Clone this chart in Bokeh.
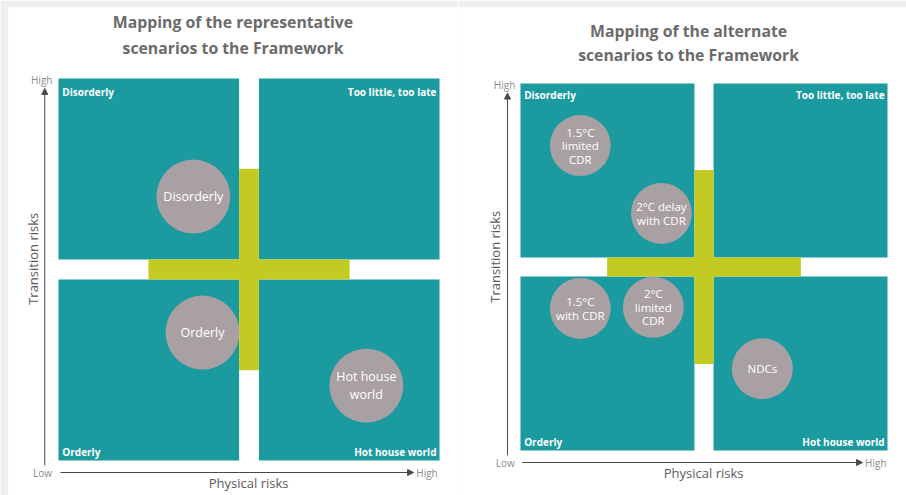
import math
from bokeh.plotting import figure
from bokeh.layouts import row
from bokeh.models import Range1d, Arrow, NormalHead, ColumnDataSource
from bokeh.core.properties import value
from bokeh.embed import file_html
from bokeh.resources import INLINE

# ---------------- data ----------------
quadrant_labels = ["Disorderly", "Too little, too late", "Orderly", "Hot house world"]

left_title = ["Mapping of the representative", "scenarios to the Framework"]
left_names = ["Disorderly", "Orderly", "Hot house\nworld"]
left_physical = [35.4, 37.8, 80.8]
left_transition = [69.1, 33.5, 19.6]

right_title = ["Mapping of the alternate", "scenarios to the Framework"]
right_names = ["1.5°C\nlimited\nCDR", "2°C delay\nwith CDR", "1.5°C\nwith CDR", "2°C\nlimited\nCDR", "NDCs"]
right_physical = [16.3, 38.4, 16.3, 36.2, 65.9]
right_transition = [83.1, 64.6, 38.7, 39.0, 22.3]

x_axis_label = "Physical risks"
y_axis_label = "Transition risks"
low_label, high_label = "Low", "High"

# ---------------- style ----------------
FONT = value("Open Sans")
TEAL = "#1b9aa0"
GREEN = "#c3cb22"
CIRCLE = "#a9a0a3"
TITLE_C = "#6b6b6b"
AXIS_C = "#4a4a4a"
PAGE_GRAY = "#efefef"
GAP = 2.6      # half gap between quadrants (framework units)
ARM = 26.4     # half length of the green cross


def panel(title, names, phys, trans, radius, fsize, lh, width, height, xr, yr, borders,
          title_y, axis_y, yaxis_x, ylab_x, xlab_y, top_off):
    bl, br, bt = borders
    p = figure(width=width, height=height, x_range=Range1d(*xr), y_range=Range1d(*yr),
               x_axis_type=None, y_axis_type=None, toolbar_location=None,
               output_backend="svg", min_border=0, min_border_left=bl, min_border_right=br,
               min_border_top=bt, min_border_bottom=0, outline_line_color=None,
               background_fill_color="white", border_fill_color=PAGE_GRAY)
    p.grid.visible = False

    # quadrant boxes
    lo, hi = [0, 50 - GAP], [50 + GAP, 100]
    boxes = dict(left=[lo[0], hi[0], lo[0], hi[0]], right=[lo[1], hi[1], lo[1], hi[1]],
                 bottom=[hi[0], hi[0], lo[0], lo[0]], top=[hi[1], hi[1], lo[1], lo[1]])
    p.quad(source=ColumnDataSource(boxes), left="left", right="right", bottom="bottom", top="top",
           fill_color=TEAL, line_color=None)
    # green cross
    p.quad(left=[50 - ARM, 50 - GAP], right=[50 + ARM, 50 + GAP],
           bottom=[50 - GAP, 50 - ARM], top=[50 + GAP, 50 + ARM],
           fill_color=GREEN, line_color=None)

    # quadrant labels
    p.text(x=[1.0, 99.2, 1.0, 99.2], y=[100 - top_off, 100 - top_off, 2.2, 2.2],
           text=quadrant_labels, text_align=["left", "right", "left", "right"],
           text_baseline="middle", text_font=FONT, text_font_style="bold",
           text_font_size="10px", text_color="white")

    # scenarios
    src = ColumnDataSource(dict(x=phys, y=trans, name=names))
    p.circle(x="x", y="y", radius=radius, source=src, fill_color=CIRCLE, line_color=None)
    p.text(x="x", y="y", text="name", source=src, text_align="center", text_baseline="middle",
           text_font=FONT, text_font_size=fsize, text_color="white", text_line_height=lh)

    # axes
    p.add_layout(Arrow(end=NormalHead(size=6, fill_color=AXIS_C, line_color=AXIS_C),
                       x_start=0.5, y_start=axis_y, x_end=93.2, y_end=axis_y,
                       line_color=AXIS_C, line_width=1))
    p.add_layout(Arrow(end=NormalHead(size=6, fill_color=AXIS_C, line_color=AXIS_C),
                       x_start=yaxis_x, y_start=-1.3, x_end=yaxis_x, y_end=97.4,
                       line_color=AXIS_C, line_width=1))
    p.text(x=[yaxis_x - 0.6], y=[axis_y], text=[low_label], text_align="center",
           text_baseline="middle", text_font=FONT, text_font_size="10px", text_color="#8a8a8a")
    p.text(x=[93.9], y=[axis_y], text=[high_label], text_align="left",
           text_baseline="middle", text_font=FONT, text_font_size="10px", text_color="#8a8a8a")
    p.text(x=[yaxis_x - 0.8], y=[99.6], text=[high_label], text_align="center",
           text_baseline="middle", text_font=FONT, text_font_size="10px", text_color="#8a8a8a")
    p.text(x=[49.9], y=[xlab_y], text=[x_axis_label], text_align="center",
           text_baseline="middle", text_font=FONT, text_font_size="13px", text_color="#5a5a5a")
    p.text(x=[ylab_x], y=[52.8], text=[y_axis_label], text_align="center", angle=math.pi / 2,
           text_baseline="middle", text_font=FONT, text_font_size="13px", text_color="#5a5a5a")

    # title
    p.text(x=[45.8, 45.8], y=title_y, text=title, text_align="center", text_baseline="middle",
           text_font=FONT, text_font_style="bold", text_font_size="15.8px", text_color=TITLE_C)
    return p


# left panel frame: screen x 8..457, y 7..495 (0 at x=58, 100 at x=439 ; 0 at y=460, 100 at y=78)
pl = panel(left_title, left_names, left_physical, left_transition, 9.7, "12.5px", 1.04,
           458, 495, (-13.12, 104.72), (-9.16, 118.59), (8, 1, 7),
           [114.7, 108.1], -3.14, -3.6, -6.6, -5.76, 3.4)
# right panel frame: screen x 458..906, y 7..495 (0 at x=520, 100 at x=887 ; 0 at y=450, 100 at y=83)
pr = panel(right_title, right_names, right_physical, right_transition, 8.3, "11.5px", 0.9,
           448, 495, (-16.89, 105.18), (-12.26, 120.71), (0, 0, 7),
           [114.4, 107.9], -3.27, -3.54, -7.08, -6.0, 3.0)

layout = row(pl, pr, spacing=0)
open("out.html", "w").write(file_html(layout, INLINE))
